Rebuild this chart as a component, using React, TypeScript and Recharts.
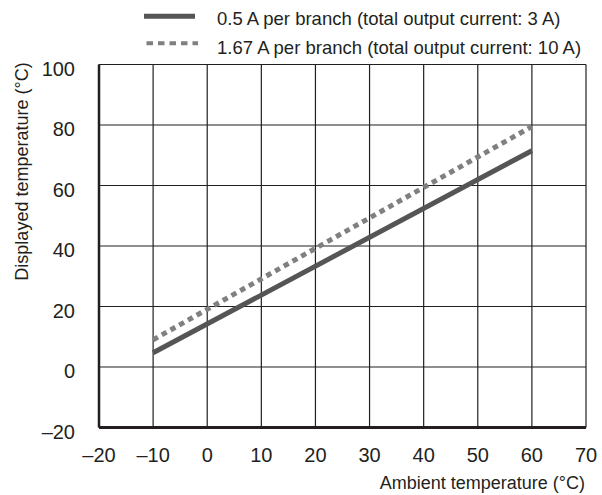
import React from 'react';
import { LineChart, Line, XAxis, YAxis, CartesianGrid, Label } from 'recharts';

const xTicks = [-20, -10, 0, 10, 20, 30, 40, 50, 60, 70];
const yTicks = [-20, 0, 20, 40, 60, 80, 100];
const ambient = [-10, 60];
const branch05 = [4.7, 71.5];
const branch167 = [9, 79.5];
const seriesNames = [
  '0.5 A per branch (total output current: 3 A)',
  '1.67 A per branch (total output current: 10 A)',
];
const xTitle = 'Ambient temperature (°C)';
const yTitle = 'Displayed temperature (°C)';

const data = ambient.map((x, i) => ({ x, a: branch05[i], b: branch167[i] }));

const FONT = '"Liberation Sans", Arial, Helvetica, sans-serif';
const INK = '#231f20';
const SOLID = '#555555';
const DOTTED = '#808080';

const fmt = (v: number) => (v < 0 ? '\u2013' + Math.abs(v) : String(v));

const Legend = () => (
  <svg width={602} height={60} style={{ position: 'absolute', left: 0, top: 0 }}>
    <line x1={144} x2={195} y1={16.3} y2={16.3} stroke={SOLID} strokeWidth={5} />
    <text x={217} y={24.5} fontSize={18.5} fill={INK} fontFamily={FONT}>{seriesNames[0]}</text>
    <line x1={146.5} x2={198} y1={43.3} y2={43.3} stroke={DOTTED} strokeWidth={4} strokeDasharray="6.5 5" />
    <text x={217} y={54.3} fontSize={18.5} fill={INK} fontFamily={FONT}>{seriesNames[1]}</text>
  </svg>
);

export default function App() {
  return (
    <div style={{ position: 'absolute', left: 0, top: 0, width: 602, height: 495, background: '#fff', fontFamily: FONT }}>
      <LineChart width={602} height={495} data={data} margin={{ top: 64.5, right: 16, left: 0, bottom: 0 }}>
        <CartesianGrid stroke={INK} strokeWidth={1.2} horizontalValues={yTicks} verticalValues={xTicks} />
        <XAxis
          dataKey="x"
          type="number"
          domain={[-20, 70]}
          ticks={xTicks}
          tickFormatter={fmt}
          height={67.5}
          tickLine={false}
          tickSize={0}
          tickMargin={20.5}
          axisLine={{ stroke: INK, strokeWidth: 3 }}
          tick={{ fontSize: 20, fill: INK, fontFamily: FONT }}
          interval={0}
        >
          <Label
            content={(props: any) => {
              const vb = props.viewBox || {};
              return (
                <text x={vb.x + vb.width - 1} y={vb.y + 61.5} textAnchor="end" fontSize={18} fill={INK} fontFamily={FONT}>
                  {xTitle}
                </text>
              );
            }}
          />
        </XAxis>
        <YAxis
          type="number"
          domain={[-20, 100]}
          ticks={yTicks}
          tickFormatter={fmt}
          width={99}
          tickLine={false}
          tickSize={0}
          tickMargin={24}
          axisLine={{ stroke: INK, strokeWidth: 2.5 }}
          tick={{ fontSize: 20, fill: INK, fontFamily: FONT, dy: 4 }}
          interval={0}
        >
          <Label
            content={(props: any) => {
              const vb = props.viewBox || {};
              const cx = 27.5;
              const cy = vb.y + 107;
              return (
                <text x={cx} y={cy} transform={`rotate(-90 ${cx} ${cy})`} textAnchor="middle" fontSize={18} fill={INK} fontFamily={FONT}>
                  {yTitle}
                </text>
              );
            }}
          />
        </YAxis>
        <Line type="linear" dataKey="a" stroke={SOLID} strokeWidth={5} dot={false} activeDot={false} isAnimationActive={false} strokeLinecap="butt" />
        <Line type="linear" dataKey="b" stroke={DOTTED} strokeWidth={5} strokeDasharray="5.5 4.5" dot={false} activeDot={false} isAnimationActive={false} strokeLinecap="butt" />
      </LineChart>
      <Legend />
    </div>
  );
}
